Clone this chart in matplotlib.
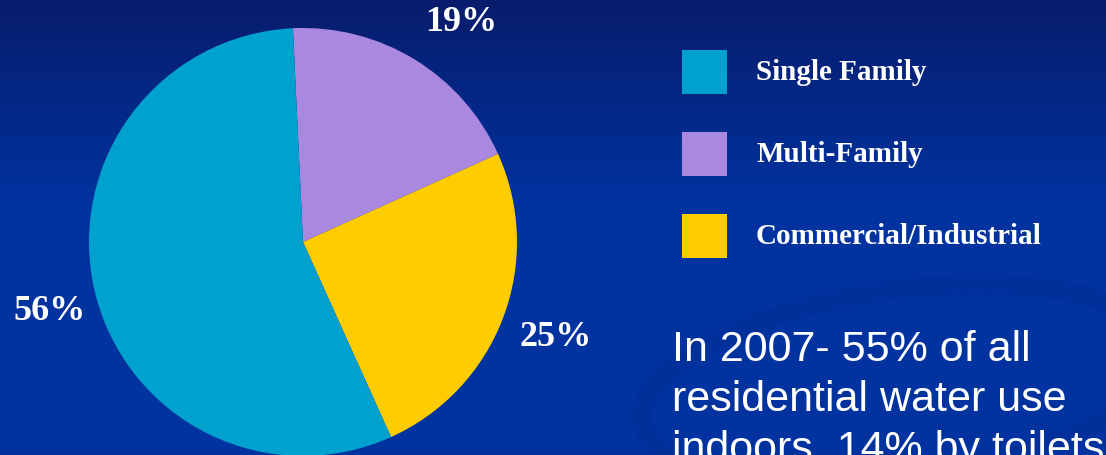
import numpy as np
import matplotlib.pyplot as plt
from matplotlib.patches import Rectangle, Ellipse

# Water use share by sector (clockwise from top)
labels = ["Multi-Family", "Commercial/Industrial", "Single Family"]
shares = [19, 25, 56]
colors = ["#AA88E0", "#FFCC00", "#00A0CF"]

legend_order = ["Single Family", "Multi-Family", "Commercial/Industrial"]
note_lines = ["In 2007- 55% of all", "residential water use", "indoors, 14% by toilets"]

W, H = 1106, 456
fig = plt.figure(figsize=(W / 100, H / 100), dpi=100)
ax = fig.add_axes([0, 0, 1, 1])

# background gradient, dark navy at top to royal blue lower down
grad = np.linspace(0, 1, 256).reshape(-1, 1)
top = np.array([0x08, 0x1C, 0x6C]) / 255
bot = np.array([0x00, 0x33, 0xA0]) / 255
t = np.clip(grad * 2.2, 0, 1)
img = top + (bot - top) * t[..., None]
img = img.reshape(256, 1, 3)
ax.imshow(img, extent=[0, W, 0, H], aspect="auto", origin="upper", zorder=0)

# faint swoosh lower right
ax.add_patch(Ellipse((900, 70), 520, 190, angle=8, fill=False,
                     edgecolor="#002C90", lw=14, alpha=0.35, zorder=0.5))

# pie
cx, cy, r = 303, H - 243, 214
ax.pie(shares, colors=colors, startangle=92.7, counterclock=False,
       center=(cx, cy), radius=r, frame=True,
       wedgeprops=dict(linewidth=0))
ax.set_xlim(0, W)
ax.set_ylim(0, H)
ax.axis("off")

lab_font = dict(family="Liberation Serif", weight="bold", color="white")
ax.text(461, H - 22, f"{shares[0]}%", ha="center", va="center", fontsize=26, **lab_font)
ax.text(556, H - 338, f"{shares[1]}%", ha="center", va="center", fontsize=26, **lab_font)
ax.text(50, H - 312, f"{shares[2]}%", ha="center", va="center", fontsize=26, **lab_font)

# legend
col_map = dict(zip(labels, colors))
ys = [73, 155, 237]
for name, y in zip(legend_order, ys):
    ax.add_patch(Rectangle((682, H - y - 22), 45, 44, color=col_map[name], lw=0))
    ax.text(756, H - y, name, ha="left", va="center", fontsize=21, **lab_font)

# note text (last line runs off the bottom, as in the original slide)
for i, line in enumerate(note_lines):
    ax.text(672, H - 361 - 50 * i, line, ha="left", va="baseline",
            fontsize=31, family="Liberation Sans", color="white")

fig.savefig("out.png", dpi=100)
